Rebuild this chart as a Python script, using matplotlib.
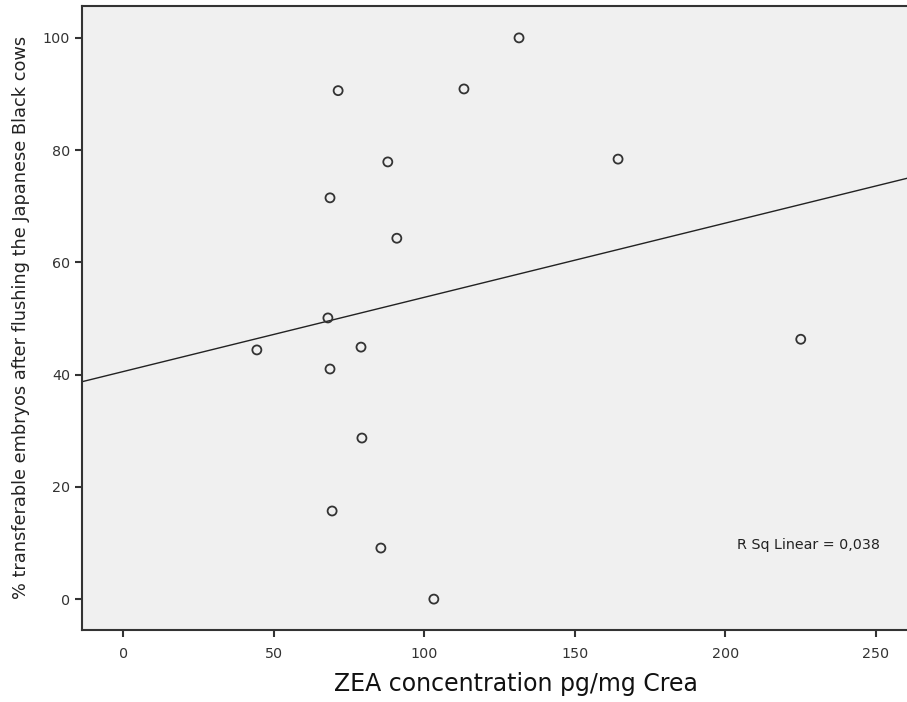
import numpy as np
import matplotlib.pyplot as plt

# ZEA (pg/mg Crea) vs % transferable embryos
zea = [131.5, 71.4, 113.2, 87.9, 164.4, 68.7, 90.9, 68.0,
       44.4, 79.0, 225.1, 68.7, 79.3, 69.4, 85.6, 103.2]
pct = [100.0, 90.6, 90.9, 77.9, 78.4, 71.5, 64.3, 50.1,
       44.4, 44.9, 46.3, 41.0, 28.7, 15.7, 9.1, 0.0]
xticks = [0, 50, 100, 150, 200, 250]
yticks = [0, 20, 40, 60, 80, 100]
rsq_label = "R Sq Linear = 0,038"

plt.rcParams['font.family'] = 'DejaVu Sans'
fig = plt.figure(figsize=(9.07, 7.02), dpi=100)
ax = fig.add_axes([0.0904, 0.1026, 0.9096, 0.889])
ax.set_facecolor('#f0f0f0')

xlim = (-13.7, 260.4)
ax.set_xlim(xlim)
ax.set_ylim(-5.5, 105.7)

# linear fit
b, a = np.polyfit(zea, pct, 1)
xs = np.array(xlim)
ax.plot(xs, a + b * xs, color='#222222', lw=1.0, zorder=2)

ax.scatter(zea, pct, s=42, facecolors='none', edgecolors='#333333',
           linewidths=1.3, zorder=3)

ax.text(251.4, 9.6, rsq_label, ha='right', va='center', fontsize=10.3, color='#222222')

ax.set_xticks(xticks)
ax.set_yticks(yticks)
ax.tick_params(axis='both', direction='out', length=5, width=1.5,
               color='#333333', labelsize=10.3, labelcolor='#333333')
ax.tick_params(axis='x', pad=7)
for s in ['left', 'bottom', 'top']:
    ax.spines[s].set_color('#333333')
    ax.spines[s].set_linewidth(1.5)
ax.spines['right'].set_visible(False)

ax.set_xlabel('ZEA concentration pg/mg Crea', fontsize=17, color='#111111')
ax.xaxis.set_label_coords(0.526, -0.068)
ax.set_ylabel('% transferable embryos after flushing the Japanese Black cows',
              fontsize=12.8, labelpad=9, color='#222222')

fig.savefig('out.png', dpi=100)
